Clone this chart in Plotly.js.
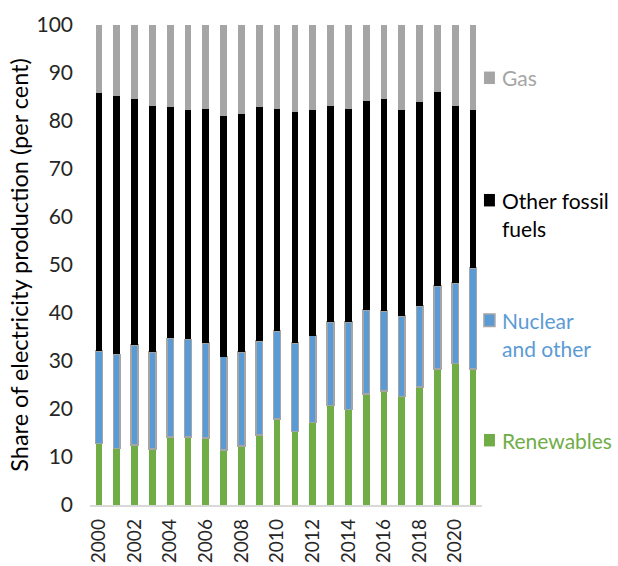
<!DOCTYPE html>
<html>
<head>
<meta charset="utf-8">
<script src="https://cdn.plot.ly/plotly-3.0.1.min.js"></script>
<style>
  html, body { margin: 0; padding: 0; background: #fff; }
  #chart { width: 618px; height: 566px; }
</style>
</head>
<body>
<div id="chart"></div>
<script>
// shares of electricity production, per cent
var years = [2000, 2001, 2002, 2003, 2004, 2005, 2006, 2007, 2008, 2009, 2010,
	2011, 2012, 2013, 2014, 2015, 2016, 2017, 2018, 2019, 2020, 2021];
var renewables = [12.8, 11.8, 12.5, 11.7, 14.2, 14.2, 14.0, 11.5, 12.3, 14.6, 17.9,
	15.3, 17.2, 20.7, 19.9, 23.1, 23.8, 22.6, 24.6, 28.3, 29.5, 28.3];
var nuclear = [19.3, 19.6, 20.8, 20.2, 20.5, 20.3, 19.8, 19.4, 19.6, 19.6, 18.4,
	18.5, 18.1, 17.4, 18.2, 17.5, 16.6, 16.8, 16.9, 17.3, 16.8, 21.1];
var fossil = [53.7, 53.8, 51.2, 51.3, 48.2, 47.7, 48.8, 50.2, 49.5, 48.7, 46.3,
	48.0, 46.9, 45.0, 44.5, 43.6, 44.1, 42.8, 42.4, 40.4, 36.8, 32.8];
var gas = [14.2, 14.8, 15.5, 16.8, 17.1, 17.8, 17.4, 18.9, 18.6, 17.1, 17.4,
	18.2, 17.8, 16.9, 17.4, 15.8, 15.5, 17.8, 16.1, 14.0, 16.9, 17.8];

var GREEN = '#70ad47', BLUE = '#5b9bd5', BLACK = '#000000', GREY = '#a5a5a5';
var TEXTFONT = 'Lato, sans-serif';

var traces = [
	{ x: years, y: renewables, name: 'Renewables', type: 'bar', marker: { color: GREEN } },
	{ x: years, y: nuclear, name: 'Nuclear and other', type: 'bar',
		marker: { color: BLUE, line: { color: GREY, width: 1.5 } } },
	{ x: years, y: fossil, name: 'Other fossil fuels', type: 'bar', marker: { color: BLACK } },
	{ x: years, y: gas, name: 'Gas', type: 'bar', marker: { color: GREY } }
];

// hand-made legend on the right: square + label lines
var legendItems = [
	{ lines: ['Gas'], y: 89.0, color: GREY, text: GREY },
	{ lines: ['Other fossil', 'fuels'], y: 63.5, color: BLACK, text: BLACK },
	{ lines: ['Nuclear', 'and other'], y: 38.5, color: BLUE, text: BLUE, border: GREY },
	{ lines: ['Renewables'], y: 13.5, color: GREEN, text: GREEN }
];

var shapes = [];
var annotations = [];
legendItems.forEach(function (it) {
	shapes.push({
		type: 'rect', xref: 'paper', yref: 'y',
		x0: 1.005, x1: 1.033, y0: it.y - 1.3, y1: it.y + 1.3,
		fillcolor: it.color,
		line: { color: it.border || it.color, width: it.border ? 1.5 : 0 }
	});
	for (var i = 0; i < it.lines.length; i++) {
		annotations.push({
			xref: 'paper', yref: 'y', x: 1.047, y: it.y - i * 5.8,
			xanchor: 'left', yanchor: 'middle', showarrow: false,
			text: it.lines[i],
			font: { family: TEXTFONT, size: 21, color: it.text }
		});
	}
});

var layout = {
	width: 618, height: 566,
	margin: { l: 90, r: 136, t: 25, b: 61 },
	paper_bgcolor: '#fff', plot_bgcolor: '#fff',
	barmode: 'stack', bargap: 0.62,
	showlegend: false,
	font: { family: TEXTFONT, size: 20, color: '#404040' },
	xaxis: {
		range: [1999.5, 2021.5], tick0: 2000, dtick: 2, tickangle: -90,
		showgrid: false, zeroline: false,
		showline: true, linecolor: '#d9d9d9', linewidth: 1.5,
		ticks: '', ticklabelstandoff: 5,
		tickfont: { size: 19, color: '#262626' }
	},
	yaxis: {
		range: [0, 100], dtick: 10,
		showgrid: false, zeroline: false, showline: false,
		ticks: '', ticklabelstandoff: 16,
		tickfont: { size: 21, color: '#262626' },
		title: {
			text: 'Share of electricity production (per cent)',
			font: { family: TEXTFONT, size: 23.5, color: '#000' },
			standoff: 1
		}
	},
	shapes: shapes,
	annotations: annotations
};

Plotly.newPlot('chart', traces, layout, { displayModeBar: false, staticPlot: true });
</script>
</body>
</html>
